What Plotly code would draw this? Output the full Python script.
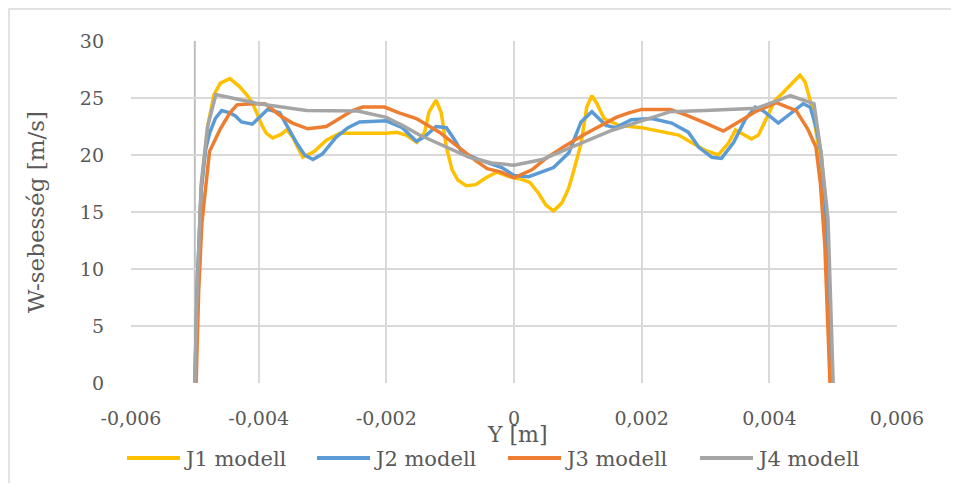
import plotly.graph_objects as go

# ---- data ----
j1_x = [-0.00500, -0.00496, -0.00490, -0.00480, -0.00470, -0.00460, -0.00445, -0.00430, -0.00419, -0.00410,
        -0.00403, -0.00395, -0.00388, -0.00378, -0.00365, -0.00356, -0.00347, -0.00338, -0.00331, -0.00313,
        -0.00294, -0.00273, -0.00240, -0.00200, -0.00184, -0.00169, -0.00160, -0.00152, -0.00140, -0.00133,
        -0.00122, -0.00114, -0.00106, -0.00097, -0.00088, -0.00075, -0.00060, -0.00044, -0.00027, -0.00008,
        0.00010, 0.00025, 0.00039, 0.00050, 0.00062, 0.00075, 0.00085, 0.00091, 0.00105, 0.00114,
        0.00122, 0.00130, 0.00141, 0.00164, 0.00200, 0.00237, 0.00258, 0.00278, 0.00300, 0.00320,
        0.00336, 0.00347, 0.00360, 0.00372, 0.00383, 0.00395, 0.00409, 0.00422, 0.00435, 0.00448,
        0.00456, 0.00464, 0.00472, 0.00480, 0.00487, 0.00493, 0.00497]
j1_y = [0, 8, 17, 22.5, 25.3, 26.3, 26.7, 26.0, 25.3, 24.6,
        23.7, 22.6, 21.9, 21.5, 21.8, 22.2, 21.6, 20.5, 19.8, 20.3,
        21.3, 21.9, 21.9, 21.9, 22.0, 21.75, 21.4, 21.1, 22.0, 23.8,
        24.8, 23.7, 20.7, 18.7, 17.8, 17.3, 17.4, 18.0, 18.5, 18.1,
        17.9, 17.6, 16.6, 15.6, 15.1, 15.8, 17.0, 18.1, 21.0, 24.2,
        25.2, 24.5, 23.2, 22.6, 22.4, 22.0, 21.75, 21.1, 20.4, 20.0,
        21.05, 22.2, 21.8, 21.4, 21.75, 23.2, 24.8, 25.5, 26.3, 27.0,
        26.4, 24.8, 22.5, 19.6, 14.9, 7.5, 0]

j2_x = [-0.00500, -0.00496, -0.00490, -0.00483, -0.00477, -0.00468, -0.00458, -0.00445, -0.00436, -0.00427,
        -0.00410, -0.00398, -0.00386, -0.00367, -0.00355, -0.00340, -0.00328, -0.00315, -0.00300, -0.00289,
        -0.00278, -0.00260, -0.00242, -0.00200, -0.00175, -0.00153, -0.00140, -0.00122, -0.00106, -0.00095,
        -0.00081, -0.00055, -0.00019, 0.00000, 0.00023, 0.00062, 0.00086, 0.00105, 0.00122, 0.00144,
        0.00159, 0.00184, 0.00216, 0.00247, 0.00273, 0.00282, 0.00289, 0.00310, 0.00325, 0.00344,
        0.00362, 0.00378, 0.00390, 0.00414, 0.00437, 0.00453, 0.00464, 0.00473, 0.00481, 0.00488,
        0.00494, 0.00498]
j2_y = [0, 9, 17, 20.5, 21.9, 23.2, 23.9, 23.7, 23.4, 22.9,
        22.7, 23.3, 24.0, 23.7, 22.5, 21.0, 20.0, 19.6, 20.1, 20.8,
        21.6, 22.4, 22.9, 23.0, 22.4, 21.2, 21.6, 22.5, 22.4, 21.5,
        20.2, 19.6, 18.9, 18.2, 18.1, 18.9, 20.2, 22.9, 23.8, 22.6,
        22.4, 23.1, 23.2, 22.8, 22.0, 21.3, 20.7, 19.8, 19.7, 21.1,
        23.1, 24.2, 23.9, 22.8, 23.8, 24.5, 24.2, 22.5, 20.2, 15.5,
        8, 0]

j3_x = [-0.00498, -0.00494, -0.00489, -0.00477, -0.00460, -0.00445, -0.00434, -0.00410, -0.00390, -0.00383,
        -0.00365, -0.00347, -0.00323, -0.00294, -0.00270, -0.00253, -0.00237, -0.00203, -0.00180, -0.00153,
        -0.00117, -0.00081, -0.00060, -0.00042, -0.00020, 0.00000, 0.00028, 0.00050, 0.00080, 0.00110,
        0.00133, 0.00160, 0.00180, 0.00200, 0.00245, 0.00270, 0.00300, 0.00328, 0.00355, 0.00378,
        0.00411, 0.00442, 0.00460, 0.00473, 0.00480, 0.00487, 0.00491, 0.00495]
j3_y = [0, 8, 14, 20.3, 22.3, 23.7, 24.4, 24.5, 24.5, 24.2,
        23.4, 22.8, 22.3, 22.5, 23.3, 23.9, 24.2, 24.2, 23.7, 23.2,
        22.0, 20.4, 19.5, 18.8, 18.5, 18.0, 18.7, 19.7, 20.8, 21.8,
        22.5, 23.3, 23.7, 24.0, 24.0, 23.5, 22.8, 22.1, 23.0, 23.8,
        24.6, 23.9, 22.3, 20.7, 17.5, 12, 6, 0]

j4_x = [-0.00500, -0.00497, -0.00490, -0.00480, -0.00467, -0.00400, -0.00325, -0.00245, -0.00200, -0.00175,
        -0.00148, -0.00117, -0.00070, -0.00035, 0.00000, 0.00044, 0.00100, 0.00150, 0.00200, 0.00245,
        0.00300, 0.00380, 0.00433, 0.00470, 0.00481, 0.00492, 0.00500]
j4_y = [0, 7, 17.5, 22.5, 25.3, 24.5, 23.9, 23.85, 23.3, 22.6,
        21.75, 21.0, 19.8, 19.3, 19.1, 19.6, 20.9, 22.1, 23.0, 23.8,
        23.9, 24.1, 25.2, 24.5, 20.2, 14.3, 0]

series_names = ["J1 modell", "J2 modell", "J3 modell", "J4 modell"]
series_colors = ["#FFC000", "#5B9BD5", "#ED7D31", "#A5A5A5"]

x_ticks = [-0.006, -0.004, -0.002, 0, 0.002, 0.004, 0.006]
x_tick_text = ["-0,006", "-0,004", "-0,002", "0", "0,002", "0,004", "0,006"]
y_ticks = [0, 5, 10, 15, 20, 25, 30]

FONT = "DejaVu Serif"
TXT = "#595959"
GRID = "#D9D9D9"

# the page adds an 8px body margin; the figure is sized to fit the window
OFF = 8
W, H = 959 - 2 * OFF, 491 - 2 * OFF
# plot area in screen pixels
SL, SR, ST, SB = 131, 897, 41, 383


def px(xs):
    return (xs - SL) / (SR - SL)


def py(ys):
    return (SB - ys) / (SB - ST)


fig = go.Figure()
for name, color, xs, ys in zip(series_names, series_colors,
                               [j1_x, j2_x, j3_x, j4_x], [j1_y, j2_y, j3_y, j4_y]):
    fig.add_trace(go.Scatter(x=xs, y=ys, mode="lines", name=name, showlegend=False,
                             line=dict(color=color, width=3.5)))

fig.update_layout(
    width=W, height=H,
    margin=dict(l=SL - OFF, r=W - (SR - OFF), t=ST - OFF, b=H - (SB - OFF), pad=0),
    paper_bgcolor="white", plot_bgcolor="white",
    font=dict(family=FONT, size=19, color=TXT),
    showlegend=False,
    xaxis=dict(range=[-0.006, 0.006], tickmode="array", tickvals=x_ticks, ticktext=x_tick_text,
               showgrid=True, gridcolor=GRID, gridwidth=1.5, zeroline=False, automargin=False,
               showline=False, ticks="", ticklabelstandoff=22,
               tickfont=dict(family=FONT, size=19, color=TXT)),
    yaxis=dict(range=[0, 30], tickmode="array", tickvals=y_ticks, automargin=False,
               showgrid=True, gridcolor=GRID, gridwidth=1.5, zeroline=False,
               showline=False, ticks="", ticklabelstandoff=26,
               tickfont=dict(family=FONT, size=19, color=TXT)),
)

# vertical axis line at x = -0.005
fig.add_shape(type="line", xref="x", yref="paper", x0=-0.005, x1=-0.005, y0=0, y1=1,
              line=dict(color="#BFBFBF", width=2), layer="below")
# chart border (partially visible)
fig.add_shape(type="rect", xref="paper", yref="paper", x0=px(9), x1=px(975), y0=py(505), y1=py(9),
              line=dict(color="#D9D9D9", width=1.5), layer="below")

# legend (custom, bottom)
leg_line_x = [127, 317, 508, 700]
leg_y = 458
for name, color, lx in zip(series_names, series_colors, leg_line_x):
    fig.add_shape(type="line", xref="paper", yref="paper", x0=px(lx), x1=px(lx + 53),
                  y0=py(leg_y), y1=py(leg_y), line=dict(color=color, width=4))
    fig.add_annotation(text=name, xref="paper", yref="paper", x=px(lx + 55), y=py(leg_y + 1),
                       showarrow=False, xanchor="left", yanchor="middle",
                       font=dict(family=FONT, size=21, color=TXT))

# axis titles
fig.add_annotation(text="Y [m]", xref="paper", yref="paper", x=px(517), y=py(434),
                   showarrow=False, xanchor="center", yanchor="middle",
                   font=dict(family=FONT, size=22, color=TXT))
fig.add_annotation(text="W-sebesség [m/s]", xref="paper", yref="paper", x=px(36), y=0.5,
                   showarrow=False, xanchor="center", yanchor="middle", textangle=-90,
                   font=dict(family=FONT, size=23, color=TXT))

fig.write_html("out.html")
